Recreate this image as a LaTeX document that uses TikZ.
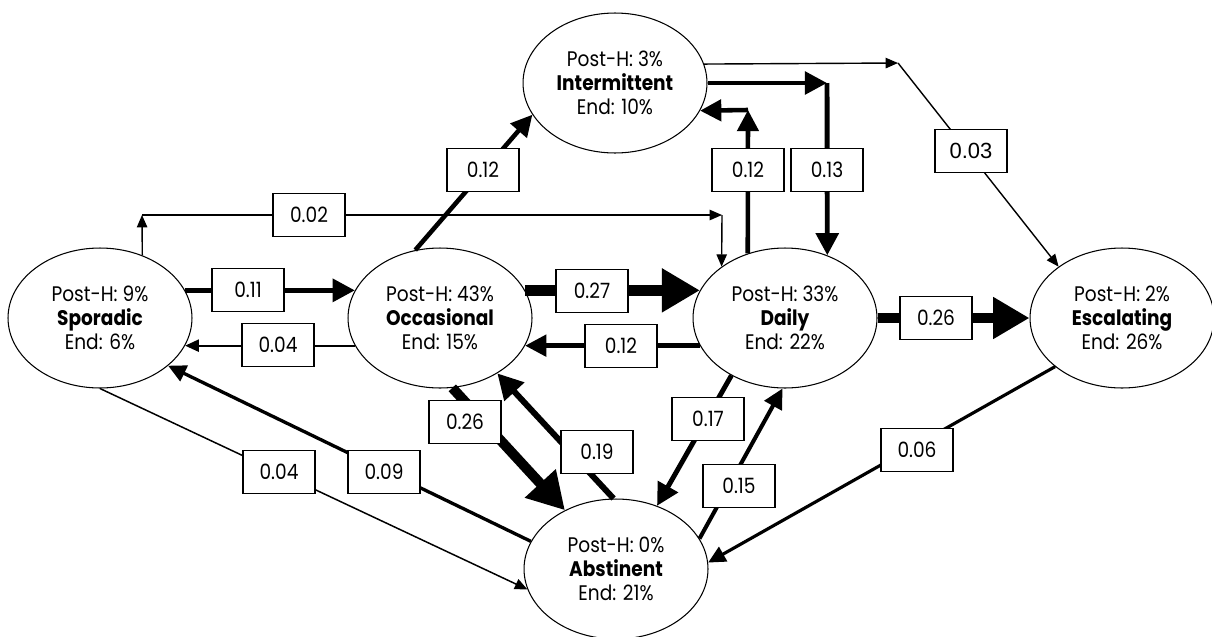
\documentclass[tikz,border=0pt]{standalone}
\usepackage{fontspec}
\setmainfont{Poppins}[FakeStretch=0.88]
\newfontfamily\arialfont{Liberation Sans}
\usetikzlibrary{arrows.meta,shapes.geometric}

\begin{document}
\begin{tikzpicture}[x=0.02cm,y=-0.02cm,
  state/.style={draw,ellipse,line width=0.6pt,minimum width=3.68cm,minimum height=2.8cm,inner sep=0pt,align=center,font=\fontsize{12}{13.8}\selectfont},
  prob/.style={draw,fill=white,line width=0.6pt,minimum width=1.44cm,minimum height=0.86cm,inner sep=0pt,font=\fontsize{12}{13.8}\selectfont},
  flow/.style={-{Triangle[length=4.8pt 2.8,width=3.2pt 3.4]},line width=#1},
  flow/.default=0.8pt]
  \useasboundingbox (0,0) rectangle (1212,636);

  % states
  \node[state] (spo) at (100,318) {Post-H: 9\%\\\textbf{Sporadic}\\End: 6\%};
  \node[state] (occ) at (440,318) {Post-H: 43\%\\\textbf{Occasional}\\End: 15\%};
  \node[state] (dly) at (785,318) {Post-H: 33\%\\\textbf{Daily}\\End: 22\%};
  \node[state] (esc) at (1122,318) {Post-H: 2\%\\\textbf{Escalating}\\End: 26\%};
  \node[state] (int) at (615,83) {Post-H: 3\%\\\textbf{Intermittent}\\End: 10\%};
  \node[state] (abs) at (616,569) {Post-H: 0\%\\\textbf{Abstinent}\\End: 21\%};

  % corners of the elbow connectors
  \coordinate (k1) at (142,215);
  \coordinate (k2) at (722,215);
  \coordinate (k3) at (827,83);
  \coordinate (k4) at (748,110);
  \coordinate (k5) at (898,63);

  % transitions
  \draw[flow=2.8pt] (spo.18) -- (occ.162);
  \draw[flow=1.1pt] (occ.198) -- (spo.-18);
  \draw[flow=6pt] (occ.18) -- (dly.162);
  \draw[flow=2.6pt] (dly.198) -- (occ.-18);
  \draw[flow=5.7pt] (dly.east) -- (esc.west);
  \draw[flow] (spo.56) -- (k1);
  \draw[flow] (k1) -- (k2);
  \draw[flow] (k2) -- (dly.141);
  \draw[flow=2.6pt] (occ.110.2) -- (int.201.1);
  \draw[flow=2.8pt] (int.east) -- (k3);
  \draw[flow=2.8pt] (k3) -- (dly.56);
  \draw[flow=2.6pt] (dly.120) -- (k4);
  \draw[flow=2.6pt] (k4) -- (int.342.4);
  \draw[flow] (int.12.8) -- (k5);
  \draw[flow] (k5) -- (esc.141.3);
  \draw[flow=5.7pt] (occ.280.5) -- (abs.131.9);
  \draw[flow=3.4pt] (abs.92.6) -- (occ.316.4);
  \draw[flow=1.9pt] (abs.162.8) -- (spo.325);
  \draw[flow=0.85pt] (spo.south) -- (abs.193);
  \draw[flow=2.8pt] (dly.227.6) -- (abs.57.4);
  \draw[flow=2.3pt] (abs.20.9) -- (dly.268);
  \draw[flow=1.8pt] (esc.216.9) -- (abs.4);

  % probabilities
  \node[prob] (p1) at (248,290) {0.11};
  \node[prob] (p2) at (278,345) {0.04};
  \node[prob] (p3) at (592,291) {0.27};
  \node[prob] (p4) at (621,346) {0.12};
  \node[prob] (p5) at (936,318) {0.26};
  \node[prob] (p6) at (309,215) {0.02};
  \node[prob] (p7) at (483,170) {0.12};
  \node[prob] (p8) at (827,170) {0.13};
  \node[prob] (p9) at (748,170) {0.12};
  \node[prob,font=\arialfont\fontsize{12.5}{13.8}\selectfont] (p10) at (971,151) {0.03};
  \node[prob] (p11) at (465,422) {0.26};
  \node[prob] (p12) at (597,452) {0.19};
  \node[prob] (p13) at (384,472) {0.09};
  \node[prob] (p14) at (279,472) {0.04};
  \node[prob] (p15) at (708,419) {0.17};
  \node[prob] (p16) at (739,486) {0.15};
  \node[prob] (p17) at (917,450) {0.06};
\end{tikzpicture}
\end{document}
